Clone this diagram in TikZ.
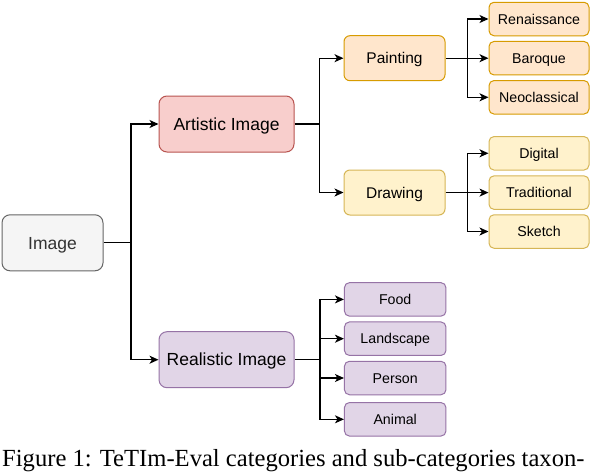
\documentclass[tikz,border=0pt]{standalone}
\usepackage{fontspec}
\setmainfont{Liberation Sans}
\newfontfamily\capfont{Liberation Serif}
\usetikzlibrary{arrows.meta}
\definecolor{grayF}{HTML}{F5F5F5}\definecolor{grayD}{HTML}{666666}
\definecolor{redF}{HTML}{F8CECC}\definecolor{redD}{HTML}{B85450}
\definecolor{orgF}{HTML}{FFE6CC}\definecolor{orgD}{HTML}{D79B00}
\definecolor{yelF}{HTML}{FFF2CC}\definecolor{yelD}{HTML}{D6B656}
\definecolor{purF}{HTML}{E1D5E7}\definecolor{purD}{HTML}{9673A6}
\definecolor{txtgray}{HTML}{333333}
\tikzset{
  box/.style={draw, line width=1pt, inner sep=0pt, align=center, text depth=0pt},
  bigbox/.style={box, rounded corners=8pt, minimum width=135pt, minimum height=56pt, text height=12.5pt, font=\fontsize{17.5}{20}\selectfont},
  midbox/.style={box, rounded corners=6pt, minimum width=101pt, minimum height=45pt, text height=11.1pt, font=\fontsize{15.5}{18}\selectfont},
  leafbox/.style={box, rounded corners=5pt, minimum width=100pt, minimum height=33.5pt, text height=10.2pt, font=\fontsize{14.2}{17}\selectfont},
  gray/.style={fill=grayF, draw=grayD, text=txtgray},
  red/.style={fill=redF, draw=redD},
  org/.style={fill=orgF, draw=orgD},
  yel/.style={fill=yelF, draw=yelD},
  pur/.style={fill=purF, draw=purD},
  link/.style={line width=1.3pt},
  conn/.style={link, -{Stealth[length=9pt,width=8pt,inset=2.5pt]}},
}
\begin{document}
\begin{tikzpicture}[x=1pt,y=-1pt]
\clip (0,0) rectangle (592,472);
\fill[white] (0,0) rectangle (592,472);
% nodes
\node[bigbox, gray, minimum width=101pt, minimum height=56pt] (img) at (52.5,242.8) {Image};
\node[bigbox, red] (art) at (226.5,124) {Artistic Image};
\node[bigbox, pur] (rea) at (226.5,359.7) {Realistic Image};
\node[midbox, org] (pai) at (394.5,58.2) {Painting};
\node[midbox, yel] (dra) at (394.5,192.5) {Drawing};
\node[leafbox, org] (ren) at (539,19) {Renaissance};
\node[leafbox, org] (bar) at (539,58.2) {Baroque};
\node[leafbox, org] (neo) at (539,97.3) {Neoclassical};
\node[leafbox, yel] (dig) at (539,153.3) {Digital};
\node[leafbox, yel] (tra) at (539,192.6) {Traditional};
\node[leafbox, yel] (ske) at (539,231.5) {Sketch};
\node[leafbox, pur, minimum width=101.5pt] (foo) at (395.2,299.4) {Food};
\node[leafbox, pur, minimum width=101.5pt] (lan) at (395.2,338.7) {Landscape};
\node[leafbox, pur, minimum width=101.5pt] (per) at (395.2,378) {Person};
\node[leafbox, pur, minimum width=101.5pt] (ani) at (395.2,419.3) {Animal};
% junctions
\coordinate (j0) at (131,242.8);
\coordinate (j1) at (319.3,124);
\coordinate (j2) at (467.7,58.2);
\coordinate (j3) at (467.7,192.5);
\coordinate (j4) at (320,359.7);
% connectors
\draw[link] (img.east) -- (j0);
\draw[conn] (j0) |- (art.west);
\draw[conn] (j0) |- (rea.west);
\draw[link] (art.east) -- (j1);
\draw[conn] (j1) |- (pai.west);
\draw[conn] (j1) |- (dra.west);
\draw[link] (pai.east) -- (j2);
\draw[conn] (j2) |- (ren.west);
\draw[conn] (j2) |- (bar.west);
\draw[conn] (j2) |- (neo.west);
\draw[link] (dra.east) -- (j3);
\draw[conn] (j3) |- (dig.west);
\draw[conn] (j3) |- (tra.west);
\draw[conn] (j3) |- (ske.west);
\draw[link] (rea.east) -- (j4);
\draw[conn] (j4) |- (foo.west);
\draw[conn] (j4) |- (lan.west);
\draw[conn] (j4) |- (per.west);
\draw[conn] (j4) |- (ani.west);
% caption
\node[anchor=base west, inner sep=0pt, font=\capfont\fontsize{24.6}{28}\selectfont] (cap) at (2,466.3) {Figure 1: TeTIm-Eval categories and sub-categories taxon-};
\end{tikzpicture}
\end{document}
